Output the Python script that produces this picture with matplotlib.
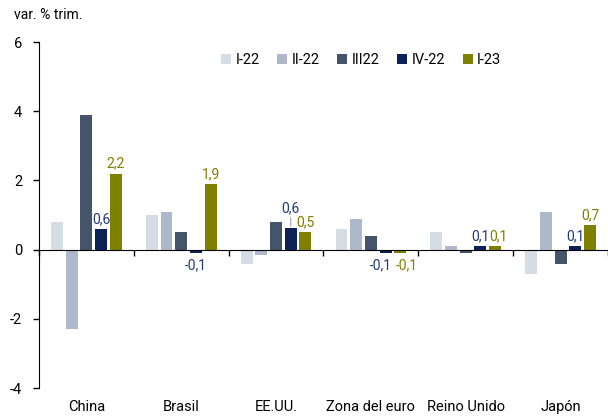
import numpy as np
import matplotlib.pyplot as plt
from matplotlib.transforms import blended_transform_factory

plt.rcParams['font.family'] = ['Roboto', 'DejaVu Sans']

countries = ['China', 'Brasil', 'EE.UU.', 'Zona del euro', 'Reino Unido', 'Japón']
series = ['I-22', 'II-22', 'III22', 'IV-22', 'I-23']
q1_22 = [0.8, 1.0, -0.4, 0.6, 0.5, -0.7]
q2_22 = [-2.3, 1.1, -0.15, 0.9, 0.1, 1.1]
q3_22 = [3.9, 0.5, 0.8, 0.4, -0.1, -0.4]
q4_22 = [0.6, -0.1, 0.64, -0.1, 0.1, 0.1]
q1_23 = [2.2, 1.9, 0.5, -0.1, 0.1, 0.7]
values = [q1_22, q2_22, q3_22, q4_22, q1_23]
colors = ['#D6DCE5', '#ADB9CA', '#44546A', '#0C2157', '#7F7F00']
label_colors = {3: '#1F3A7A', 4: '#7F7F00'}

# nudges (points) for labels that would collide: (series, country) -> (dx, dy)
nudge = {(3, 2): (0, 7), (3, 3): (-3.5, 0), (4, 3): (5, 0), (4, 4): (2.5, 0)}

fig = plt.figure(figsize=(6.08, 4.16), dpi=100)
ax = fig.add_axes([0.064, 0.067, 0.936, 0.832])

x = np.arange(len(countries))
step = 0.155
width = 0.126
for i, (name, vals) in enumerate(zip(series, values)):
    pos = x + (i - 2) * step
    ax.bar(pos, vals, width=width, color=colors[i], label=name, zorder=2)
    if i in label_colors:
        for j, (px, v) in enumerate(zip(pos, vals)):
            txt = f'{v:.1f}'.replace('.', ',')
            dx, dy = nudge.get((i, j), (0, 0))
            arrow = None
            if dy > 0:
                arrow = dict(arrowstyle='-', color='#A0A0A0', lw=0.8, shrinkA=0, shrinkB=1)
            if v >= 0:
                ax.annotate(txt, (px, v), xytext=(dx, 2 + dy), textcoords='offset points',
                            ha='center', va='bottom', fontsize=10, color=label_colors[i],
                            arrowprops=arrow)
            else:
                ax.annotate(txt, (px, v), xytext=(dx, -4 - dy), textcoords='offset points',
                            ha='center', va='top', fontsize=10, color=label_colors[i])

ax.set_ylim(-4, 6)
ax.set_xlim(-0.5, len(countries) - 0.5)
ax.set_yticks([-4, -2, 0, 2, 4, 6])
ax.set_yticklabels(['-4', '-2', '0', '2', '4', '6'], fontsize=10.5)
ax.tick_params(axis='y', direction='out', length=4, width=1, pad=8)

ax.spines['top'].set_visible(False)
ax.spines['right'].set_visible(False)
ax.spines['bottom'].set_position(('data', 0))
ax.spines['bottom'].set_zorder(3)
ax.set_xticks(np.arange(len(countries) + 1) - 0.5)
ax.set_xticklabels([])
ax.tick_params(axis='x', direction='out', length=4, width=1)

trans = blended_transform_factory(ax.transData, ax.transAxes)
for xi, c in zip(x, countries):
    ax.text(xi, -0.055, c, transform=trans, ha='center', va='center', fontsize=10.5)

ax.legend(loc='upper center', bbox_to_anchor=(0.566, 1.005), ncol=5, frameon=False,
          fontsize=10.5, handlelength=0.7, handleheight=0.7, columnspacing=1.2,
          handletextpad=0.3)

fig.text(0.023, 0.965, 'var. % trim.', fontsize=10, ha='left', va='center')

fig.savefig('out.png', dpi=100)
